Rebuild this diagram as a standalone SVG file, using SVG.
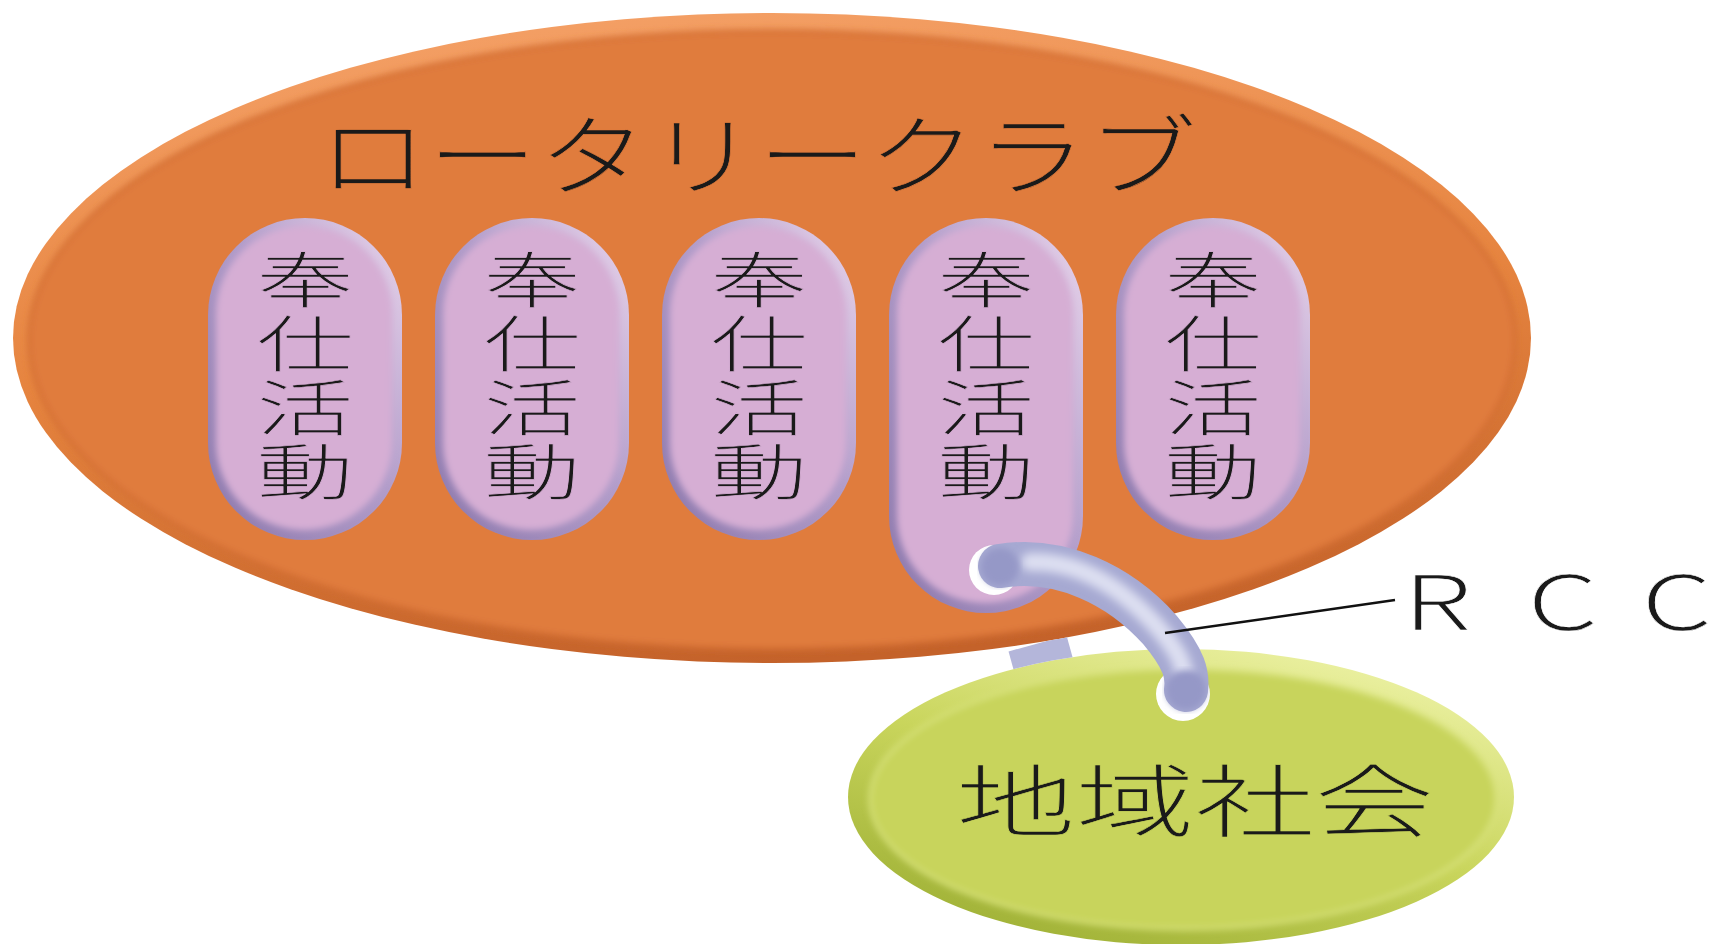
<svg xmlns="http://www.w3.org/2000/svg" width="1715" height="944" viewBox="0 0 1715 944">
<defs>
  <linearGradient id="orangeRim" x1="0.3" y1="0" x2="0.5" y2="1">
    <stop offset="0" stop-color="#F4A066"/>
    <stop offset="0.5" stop-color="#E6843F"/>
    <stop offset="1" stop-color="#C4622A"/>
  </linearGradient>
  <linearGradient id="pillRim" x1="1" y1="0" x2="0" y2="1">
    <stop offset="0" stop-color="#EAD6EC"/>
    <stop offset="0.45" stop-color="#B29DCA"/>
    <stop offset="1" stop-color="#8C78AC"/>
  </linearGradient>
  <linearGradient id="greenRim" x1="0.8" y1="0" x2="0.2" y2="1">
    <stop offset="0" stop-color="#EEF3A8"/>
    <stop offset="0.5" stop-color="#C9D55C"/>
    <stop offset="1" stop-color="#9DAF34"/>
  </linearGradient>
  <filter id="soft" x="-10%" y="-10%" width="120%" height="120%"><feGaussianBlur stdDeviation="3"/></filter>
  <filter id="soft5" x="-20%" y="-20%" width="140%" height="140%"><feGaussianBlur stdDeviation="5"/></filter>
  <mask id="gap" maskUnits="userSpaceOnUse" x="0" y="0" width="1715" height="944">
    <rect x="0" y="0" width="1715" height="944" fill="#fff"/>
    <ellipse cx="772" cy="338" rx="759" ry="325" fill="#000"/>
    <ellipse cx="1181" cy="797" rx="333" ry="148" fill="#000"/>
  </mask>
</defs>
<style>
  .jp { font-family: 'Noto Sans CJK JP', 'Noto Sans CJK SC', sans-serif; font-weight: 300; fill: #1a1a1a; }
  .pt { font-size: 61px; writing-mode: vertical-rl; letter-spacing: 3px; stroke: #D6AED4; stroke-width: 0.6px; }
  .pill-outer { fill: url(#pillRim); }
  .pill-inner { fill: #D6AED4; filter: url(#soft); }
</style>
<rect width="1715" height="944" fill="#fff"/>

<g id="rotary-club">
  <ellipse cx="772" cy="338" rx="759" ry="325" fill="url(#orangeRim)"/>
  <ellipse cx="772" cy="340" rx="743" ry="309" fill="#E07B3C" stroke="#D06C30" stroke-width="3" filter="url(#soft)"/>
  <text class="jp" x="318" y="188" font-size="88" textLength="879" lengthAdjust="spacingAndGlyphs" stroke="#E07B3C" stroke-width="0.6">ロータリークラブ</text>
</g>

<g id="service-1">
  <rect class="pill-outer" x="208" y="218" width="194" height="322" rx="97"/>
  <rect class="pill-inner" x="216" y="226" width="176" height="304" rx="88"/>
  <text class="jp pt" transform="translate(305 249) scale(1.6 1)" x="0" y="0">奉仕活動</text>
</g>
<g id="service-2">
  <rect class="pill-outer" x="435" y="218" width="194" height="322" rx="97"/>
  <rect class="pill-inner" x="443" y="226" width="176" height="304" rx="88"/>
  <text class="jp pt" transform="translate(532 249) scale(1.6 1)" x="0" y="0">奉仕活動</text>
</g>
<g id="service-3">
  <rect class="pill-outer" x="662" y="218" width="194" height="322" rx="97"/>
  <rect class="pill-inner" x="670" y="226" width="176" height="304" rx="88"/>
  <text class="jp pt" transform="translate(759 249) scale(1.6 1)" x="0" y="0">奉仕活動</text>
</g>
<g id="service-4">
  <rect class="pill-outer" x="889" y="218" width="194" height="395" rx="97"/>
  <rect class="pill-inner" x="897" y="226" width="176" height="377" rx="88"/>
  <text class="jp pt" transform="translate(986 249) scale(1.6 1)" x="0" y="0">奉仕活動</text>
</g>
<g id="service-5">
  <rect class="pill-outer" x="1116" y="218" width="194" height="322" rx="97"/>
  <rect class="pill-inner" x="1124" y="226" width="176" height="304" rx="88"/>
  <text class="jp pt" transform="translate(1213 249) scale(1.6 1)" x="0" y="0">奉仕活動</text>
</g>

<g id="community">
  <ellipse cx="1181" cy="797" rx="333" ry="148" fill="url(#greenRim)"/>
  <ellipse cx="1183" cy="799" rx="313" ry="130" fill="#C8D45C" stroke="#D9E37E" stroke-width="3" filter="url(#soft)"/>
  <text class="jp" x="956" y="831" font-size="79" textLength="478" lengthAdjust="spacingAndGlyphs" stroke="#C8D45C" stroke-width="0.6">地域社会</text>
</g>

<g id="connectors">
  <path d="M1012 664 L1070 648" fill="none" stroke="#B4B6DA" stroke-width="26" mask="url(#gap)"/>
  <circle cx="994" cy="570" r="25" fill="#fff"/>
  <circle cx="1183" cy="694" r="27" fill="#fff"/>
  <path d="M1000 566 C1060 556 1120 585 1160 630 C1185 660 1188 675 1186 690" fill="none" stroke="#A6A9D2" stroke-width="44" stroke-linecap="round"/>
  <path d="M1030 562 C1080 560 1125 590 1160 630 C1176 650 1182 660 1184 672" fill="none" stroke="#DDDFF1" stroke-width="18" stroke-linecap="round" filter="url(#soft5)"/>
  <circle cx="1000" cy="567" r="19" fill="#9598C7" filter="url(#soft)"/>
  <circle cx="1186" cy="690" r="20" fill="#9598C7" filter="url(#soft)"/>
  <path d="M1165 633 L1395 600" fill="none" stroke="#111" stroke-width="2.5"/>
</g>

<g id="rcc-label">
  <text class="jp" transform="translate(1403 630) scale(1.5 1)" x="0 83 159" y="0" font-size="75" stroke="#fff" stroke-width="0.5">RCC</text>
</g>
</svg>
